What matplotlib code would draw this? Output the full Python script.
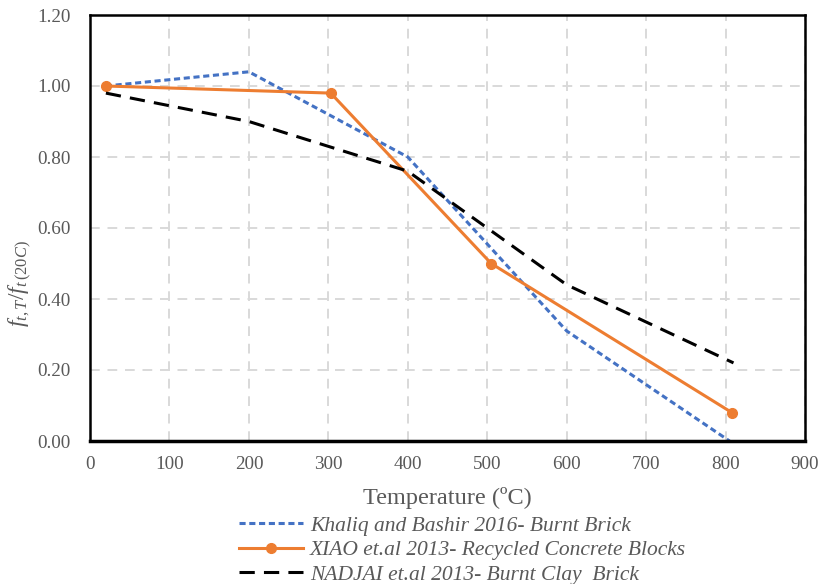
import matplotlib
matplotlib.use('Agg')
import matplotlib.pyplot as plt

plt.rcParams['font.family'] = ['Liberation Serif', 'DejaVu Serif']
plt.rcParams['mathtext.fontset'] = 'custom'
plt.rcParams['mathtext.it'] = 'Liberation Serif:italic'
plt.rcParams['mathtext.rm'] = 'Liberation Serif'

# data
temp_khaliq = [20, 200, 400, 600, 805]
ratio_khaliq = [1.00, 1.04, 0.80, 0.31, 0.00]

temp_xiao = [20, 303, 505, 808]
ratio_xiao = [1.00, 0.98, 0.50, 0.08]

temp_nadjai = [20, 200, 400, 600, 810]
ratio_nadjai = [0.98, 0.90, 0.76, 0.44, 0.22]

labels = ['Khaliq and Bashir 2016- Burnt Brick',
          'XIAO et.al 2013- Recycled Concrete Blocks',
          'NADJAI et.al 2013- Burnt Clay  Brick']

grey = '#595959'

fig = plt.figure(figsize=(8.19, 5.84), dpi=100)
ax = fig.add_axes([90 / 819, 1 - 441 / 584, 715 / 819, 426 / 584])

l1, = ax.plot(temp_khaliq, ratio_khaliq, color='#4472C4', linewidth=2.2,
              linestyle=(0, (2.0, 1.2)))
l2, = ax.plot(temp_xiao, ratio_xiao, color='#ED7D31', linewidth=2.2,
              marker='o', markersize=7)
l3, = ax.plot(temp_nadjai, ratio_nadjai, color='black', linewidth=2.2,
              linestyle=(0, (5, 3)))

ax.set_xlim(0, 900)
ax.set_ylim(0, 1.2)
ax.set_xticks(range(0, 901, 100))
ax.set_yticks([i * 0.2 for i in range(7)])
ax.set_yticklabels(['%.2f' % (i * 0.2) for i in range(7)])
ax.tick_params(length=0, labelsize=13.8, labelcolor=grey)
ax.tick_params(axis='x', pad=11)
ax.tick_params(axis='y', pad=14)

ax.grid(True, color='#d9d9d9', linestyle=(0, (5, 4)), linewidth=1.4)
ax.set_axisbelow(True)
for s in ax.spines.values():
    s.set_linewidth(1.8)
    s.set_color('black')
ax.spines['bottom'].set_linewidth(2.5)

ax.set_xlabel('Temperature (ºC)', fontsize=17.5, color=grey, labelpad=10)
ax.set_ylabel(r'$f_{t,T}/f_{t\,(20C)}$', fontsize=17, color=grey)
ax.yaxis.set_label_coords(-0.078, 0.37)

leg = fig.legend([l1, l2, l3], labels, loc='upper left',
                 bbox_to_anchor=(228 / 819, 1 - 505 / 584), frameon=False,
                 prop={'style': 'italic', 'size': 15.5}, handlelength=3.0,
                 handletextpad=0.3, labelspacing=0.2, borderpad=0)
for t in leg.get_texts():
    t.set_color(grey)

fig.savefig('out.png', dpi=100)
